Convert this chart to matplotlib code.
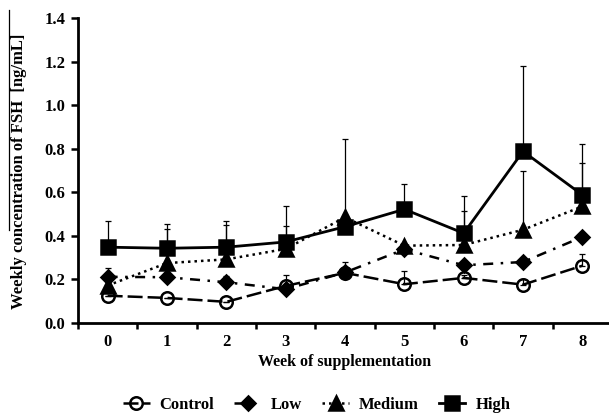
import numpy as np
import matplotlib
matplotlib.use('Agg')
import matplotlib.pyplot as plt
from matplotlib.lines import Line2D

# 数据
weeks = [0, 1, 2, 3, 4, 5, 6, 7, 8]
control = [0.125, 0.115, 0.097, 0.170, 0.230, 0.178, 0.207, 0.176, 0.263]
control_err = [0.0, 0.0, 0.0, 0.050, 0.050, 0.060, 0.015, 0.025, 0.052]
low = [0.212, 0.210, 0.187, 0.155, 0.232, 0.338, 0.265, 0.280, 0.395]
low_err = [0.040, 0.0, 0.030, 0.0, 0.0, 0.0, 0.0, 0.0, 0.0]
medium = [0.172, 0.275, 0.292, 0.340, 0.485, 0.355, 0.358, 0.428, 0.535]
medium_err = [0.0, 0.155, 0.160, 0.104, 0.0, 0.0, 0.155, 0.268, 0.200]
high = [0.348, 0.343, 0.348, 0.372, 0.442, 0.522, 0.412, 0.788, 0.588]
high_err = [0.118, 0.112, 0.118, 0.166, 0.402, 0.118, 0.170, 0.390, 0.233]

plt.rcParams['font.family'] = ['Liberation Serif', 'DejaVu Serif']
plt.rcParams['font.weight'] = 'bold'

fig = plt.figure(figsize=(6.09, 4.16), dpi=100)
ax = fig.add_axes([0.128, 0.2236, 0.877, 0.7331])

series = [
    ('Control', control, control_err, 'o', (0, (6, 2)), 'none', 9),
    ('Low', low, low_err, 'D', (0, (4, 3, 1, 3)), 'black', 7.5),
    ('Medium', medium, medium_err, '^', (0, (1, 1.6)), 'black', 9.5),
    ('High', high, high_err, 's', '-', 'black', 10.5),
]

for name, vals, err, mk, ls, mfc, ms in series:
    lw = 2.0 if name == 'High' else 1.8
    ax.errorbar(weeks, vals, yerr=[np.zeros(len(err)), err], fmt='none',
                ecolor='black', elinewidth=0.9, capsize=2.5, capthick=0.9, zorder=2)
    ax.plot(weeks, vals, color='black', linestyle=ls, linewidth=lw,
            marker=mk, markersize=ms, markerfacecolor=mfc,
            markeredgecolor='black', markeredgewidth=1.8, label=name, zorder=3)

ax.set_xlim(-0.5, 8.5)
ax.set_ylim(0, 1.4)
ax.set_yticks(np.arange(0, 1.41, 0.2))
ax.set_yticklabels(['{:.1f}'.format(v) for v in np.arange(0, 1.41, 0.2)])
ax.set_xticks(weeks)
ax.set_xticks(np.arange(-0.5, 8.6, 1), minor=True)
ax.tick_params(axis='x', which='major', length=0, pad=8, labelsize=12)
ax.tick_params(axis='x', which='minor', length=4, width=1.8, direction='out')
ax.tick_params(axis='y', length=5, width=1.8, direction='out', pad=4, labelsize=12)
for lab in ax.get_xticklabels() + ax.get_yticklabels():
    lab.set_fontweight('bold')

for s in ['top', 'right']:
    ax.spines[s].set_visible(False)
for s in ['left', 'bottom']:
    ax.spines[s].set_linewidth(2.0)

ax.set_xlabel('Week of supplementation', fontsize=11.5, fontweight='bold', labelpad=3)

fig.text(0.032, 0.587, 'Weekly concentration of FSH  [ng/mL]', rotation=90,
         ha='center', va='center', fontsize=12, fontweight='bold')
# 标签上方的横线
fig.add_artist(Line2D([0.0148, 0.0148], [1 - 230 / 416, 1 - 10 / 416],
                      color='black', linewidth=0.9))

fig.legend(loc='center', bbox_to_anchor=(0.52, 0.026), ncol=4, frameon=False,
           handlelength=1.6, columnspacing=1.2, handletextpad=0.6,
           prop={'weight': 'bold', 'size': 12})

fig.savefig('out.png', dpi=100)
